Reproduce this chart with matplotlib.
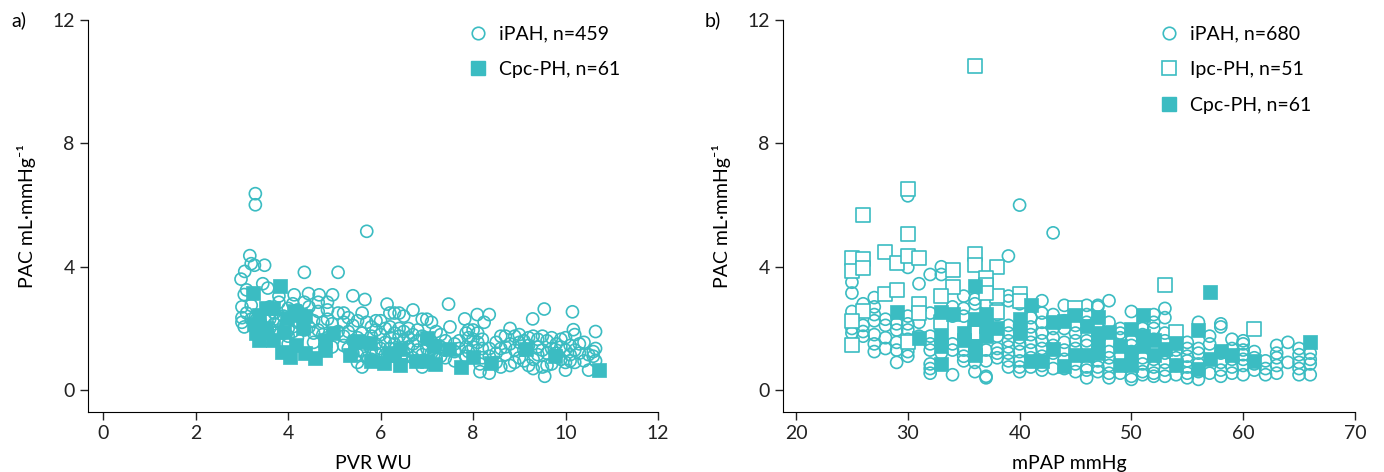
import matplotlib.pyplot as plt
from matplotlib.lines import Line2D

# colores y fuente
teal = '#3bbcc2'
plt.rcParams['font.family'] = ['Lato', 'DejaVu Sans']
plt.rcParams['font.size'] = 14

# ---------------- panel a: PVR vs PAC ----------------
ipah_a_pvr = [3.0, 3.0, 3.0, 2.98, 3.05, 3.05, 3.1, 3.06, 3.1, 3.17, 3.2, 3.2, 3.2,
              3.29, 3.29, 3.27, 3.3, 3.45, 3.4, 3.4, 3.49, 3.56, 3.5, 3.5, 3.6, 3.6, 3.6,
              3.7, 3.7, 3.7, 3.8, 3.8, 3.8, 3.8, 3.9, 3.9, 3.9, 4.0, 4.0, 4.0, 4.0,
              4.13, 4.1, 4.1, 4.2, 4.2, 4.2, 4.35, 4.35, 4.35, 4.35, 4.44, 4.45, 4.45,
              4.55, 4.55, 4.55, 4.67, 4.65, 4.65, 4.65, 4.75, 4.75, 4.85, 4.85, 4.85, 4.85,
              4.96, 4.95, 4.95, 5.08, 5.08, 5.08, 5.2, 5.2, 5.2, 5.2, 5.3, 5.3, 5.3,
              5.4, 5.4, 5.4, 5.4, 5.5, 5.5, 5.5, 5.5, 5.6, 5.6, 5.6, 5.6,
              5.7, 5.66, 5.7, 5.7, 5.7, 5.8, 5.8, 5.8, 5.8, 5.9, 5.9, 5.9, 5.9,
              6.0, 6.0, 6.0, 6.14, 6.1, 6.1, 6.1, 6.2, 6.2, 6.2, 6.2, 6.3, 6.3, 6.3, 6.3,
              6.4, 6.4, 6.4, 6.4, 6.5, 6.5, 6.5, 6.5, 6.5, 6.6, 6.6, 6.6,
              6.7, 6.7, 6.7, 6.7, 6.8, 6.8, 6.8, 6.9, 6.9, 6.9, 6.9, 7.0, 7.0, 7.0,
              7.1, 7.1, 7.1, 7.2, 7.2, 7.2, 7.3, 7.3, 7.3, 7.4, 7.4, 7.4, 7.47, 7.5,
              7.6, 7.6, 7.6, 7.7, 7.7, 7.82, 7.85, 7.85, 7.85, 7.9, 7.9, 7.9,
              8.0, 8.0, 8.0, 8.09, 8.1, 8.1, 8.15, 8.15, 8.2, 8.2, 8.2, 8.24,
              8.35, 8.35, 8.35, 8.35, 8.5, 8.5, 8.5, 8.6, 8.6, 8.6, 8.7, 8.7, 8.7,
              8.8, 8.8, 8.8, 8.9, 8.9, 8.9, 9.0, 9.0, 9.0, 9.1, 9.1, 9.1, 9.2, 9.2, 9.2,
              9.29, 9.3, 9.3, 9.3, 9.4, 9.4, 9.4, 9.5, 9.5, 9.5, 9.54, 9.55, 9.6, 9.6, 9.6,
              9.7, 9.7, 9.7, 9.8, 9.8, 9.9, 9.9, 9.9, 10.0, 10.0, 10.0, 10.0,
              10.1, 10.1, 10.1, 10.15, 10.17, 10.2, 10.2, 10.2, 10.3, 10.3, 10.4, 10.4,
              10.5, 10.5, 10.6, 10.6, 10.65, 10.65, 10.65]
ipah_a_pac = [2.2, 2.35, 2.7, 3.6, 3.1, 2.05, 3.25, 3.85, 2.5, 4.36, 4.1, 2.75, 2.3,
              6.37, 6.01, 4.05, 2.4, 3.45, 2.2, 1.9, 4.05, 3.31, 1.7, 2.3, 2.3, 2.0, 2.7,
              2.5, 2.15, 1.85, 3.05, 2.85, 2.25, 1.95, 1.85, 2.4, 2.1, 2.65, 2.0, 1.75, 1.5,
              3.09, 2.8, 1.9, 2.6, 2.2, 1.7, 3.82, 2.85, 2.4, 1.95, 3.13, 2.7, 2.05,
              2.25, 1.85, 1.55, 3.09, 2.85, 2.55, 1.95, 2.2, 1.8, 2.85, 2.6, 2.3, 1.7,
              3.09, 2.15, 1.4, 3.82, 2.5, 1.9, 2.5, 2.2, 1.75, 1.45, 2.35, 1.9, 1.35,
              3.06, 2.1, 1.6, 1.2, 2.25, 1.7, 1.15, 0.9, 2.5, 1.85, 1.3, 0.75,
              5.15, 2.94, 2.2, 1.55, 1.05, 2.05, 1.75, 1.3, 1.0, 2.25, 1.95, 1.5, 1.2,
              2.25, 1.8, 1.35, 2.79, 2.0, 1.55, 1.15, 2.5, 2.05, 1.7, 1.35, 2.5, 1.85, 1.5, 1.1,
              2.5, 2.0, 1.75, 1.3, 2.4, 1.9, 1.6, 1.2, 1.05, 2.0, 1.7, 1.4,
              2.6, 1.8, 1.5, 1.05, 1.95, 1.6, 1.3, 2.3, 1.75, 1.15, 0.75, 2.3, 1.65, 1.35,
              2.2, 1.55, 1.2, 1.9, 1.45, 1.0, 1.8, 1.4, 1.1, 1.6, 1.3, 1.05, 2.79, 2.05,
              1.5, 1.25, 0.95, 1.6, 1.35, 2.31, 1.85, 1.4, 1.1, 1.95, 1.7, 1.25,
              1.95, 1.65, 1.4, 2.45, 1.85, 1.55, 0.85, 0.6, 1.65, 1.35, 1.05, 2.2,
              2.45, 1.35, 1.1, 0.55, 1.55, 1.2, 0.9, 1.75, 1.35, 0.75, 1.75, 1.4, 1.15,
              2.0, 1.5, 0.8, 1.75, 1.3, 0.9, 1.8, 1.55, 1.05, 1.6, 1.3, 0.95, 1.7, 1.45, 0.8,
              2.31, 1.75, 1.0, 0.7, 1.65, 1.4, 1.15, 1.75, 1.3, 0.75, 2.63, 0.45, 1.6, 1.2, 0.8,
              1.7, 1.35, 0.85, 1.5, 1.2, 1.65, 1.4, 1.0, 1.7, 1.3, 0.9, 0.65,
              1.45, 1.15, 0.95, 2.54, 1.96, 1.8, 1.3, 0.9, 1.5, 1.2, 1.55, 0.95,
              1.15, 0.65, 1.25, 1.1, 1.9, 1.35, 0.95]

cpc_a_pvr = [3.24, 3.82, 3.36, 3.52, 3.67, 3.26, 3.52, 3.36, 3.67, 3.98, 4.13, 4.37,
             4.32, 3.86, 4.03, 4.16, 4.37, 4.59, 4.8, 4.8, 4.97, 5.33, 5.44, 5.76, 5.79,
             6.07, 6.19, 6.43, 6.43, 6.77, 7.01, 7.01, 7.15, 7.18, 7.49, 7.73, 8.0, 8.38,
             9.15, 9.77, 10.72, 3.45, 3.9, 4.25, 3.3, 5.5, 6.3]
cpc_a_pac = [3.15, 3.37, 2.45, 2.67, 2.67, 2.13, 2.02, 1.64, 1.64, 2.34, 2.56, 2.4,
             2.02, 1.24, 1.08, 1.48, 1.21, 1.05, 1.29, 1.64, 1.86, 1.14, 1.56, 1.53, 0.94,
             0.88, 1.21, 1.32, 0.8, 0.96, 0.96, 1.69, 1.42, 0.86, 1.34, 0.74, 1.07, 0.88,
             1.32, 1.12, 0.65, 1.9, 1.9, 2.45, 1.85, 1.6, 1.15]

# ---------------- panel b: mPAP vs PAC ----------------
ipah_b_mpap = ([25] * 5 + [26] * 4 + [27] * 7 + [28] * 4 + [29] * 5 + [30] * 8 +
               [31] * 3 + [32] * 8 + [33] * 5 + [34] * 5 + [35] * 6 + [36] * 6 +
               [37] * 7 + [38] * 6 + [39] * 10 + [40] * 10 + [41] * 7 + [42] * 9 +
               [43] * 7 + [44] * 7 + [45] * 7 + [46] * 8 + [47] * 6 + [48] * 7 +
               [49] * 6 + [50] * 7 + [51] * 6 + [52] * 8 + [53] * 8 + [54] * 5 +
               [55] * 7 + [56] * 6 + [57] * 3 + [58] * 6 + [59] * 5 + [60] * 7 +
               [61] * 4 + [62] * 3 + [63] * 5 + [64] * 2 + [65] * 5 + [66] * 4)
ipah_b_pac = [3.5, 3.15, 2.55, 2.0, 1.85,
              2.8, 2.1, 1.9, 1.75,
              3.0, 2.7, 2.45, 2.25, 1.8, 1.5, 1.25,
              2.3, 2.1, 1.7, 1.35,
              2.15, 1.95, 1.55, 1.3, 0.9,
              6.3, 3.98, 2.4, 2.15, 1.95, 1.65, 1.25, 1.1,
              3.45, 2.2, 1.75,
              3.75, 2.5, 1.75, 1.5, 1.3, 0.85, 0.7, 0.55,
              4.0, 3.75, 2.2, 1.55, 1.2,
              2.7, 2.4, 1.5, 1.3, 0.5,
              3.05, 2.65, 2.4, 1.3, 1.1, 0.95,
              2.95, 2.8, 2.0, 1.75, 0.9, 0.6,
              2.8, 2.3, 1.95, 1.3, 0.95, 0.45, 0.4,
              2.7, 2.45, 1.75, 1.35, 1.2, 1.05,
              4.35, 3.05, 2.9, 2.1, 1.85, 1.6, 1.4, 1.2, 0.95, 0.75,
              6.0, 2.8, 2.1, 1.9, 1.7, 1.5, 1.25, 0.95, 0.75, 0.6,
              2.35, 2.05, 1.8, 1.55, 1.3, 1.05, 0.75,
              2.9, 2.5, 2.2, 1.85, 1.6, 1.35, 1.1, 0.8, 0.65,
              5.1, 2.45, 2.0, 1.7, 1.45, 1.2, 0.7,
              2.75, 2.25, 2.0, 1.55, 1.3, 1.0, 0.7,
              2.5, 2.1, 1.85, 1.6, 1.35, 0.85, 0.6,
              2.75, 2.45, 2.2, 1.6, 1.45, 0.75, 0.65, 0.4,
              2.7, 2.75, 2.05, 0.95, 0.75, 0.6,
              2.9, 2.2, 1.25, 1.05, 0.8, 0.55, 0.4,
              2.0, 1.85, 1.7, 1.45, 1.1, 0.55,
              2.55, 1.6, 1.45, 1.25, 1.0, 0.45, 0.35,
              2.0, 1.8, 1.05, 0.85, 0.6, 0.5,
              2.45, 2.2, 2.0, 1.65, 1.0, 0.75, 0.55, 0.45,
              2.65, 2.35, 1.85, 1.6, 1.2, 0.9, 0.65, 0.45,
              1.5, 1.3, 1.05, 0.8, 0.5,
              1.55, 1.35, 1.1, 0.95, 0.75, 0.55, 0.4,
              2.2, 1.35, 1.2, 0.85, 0.6, 0.35,
              1.75, 1.5, 0.55,
              2.15, 2.05, 1.2, 0.9, 0.65, 0.45,
              1.65, 1.35, 1.0, 0.75, 0.55,
              1.6, 1.5, 1.3, 1.15, 1.0, 0.8, 0.5,
              1.25, 1.05, 0.85, 0.65,
              0.95, 0.7, 0.5,
              1.45, 1.2, 1.05, 0.8, 0.55,
              1.55, 0.9,
              1.35, 1.15, 0.9, 0.7, 0.5,
              1.2, 1.0, 0.85, 0.5]

ipc_b_mpap = [36, 30, 26, 30, 25, 26, 28, 29, 30, 31, 25, 26, 34, 36, 36, 38, 37, 37,
              34, 33, 28, 29, 38, 40, 40, 31, 31, 26, 25, 25, 30, 36, 36, 38, 53, 54,
              61, 45, 37, 33]
ipc_b_pac = [10.52, 6.52, 5.67, 5.07, 4.28, 4.25, 4.48, 4.12, 4.34, 4.28, 3.85, 3.96,
             3.9, 4.4, 4.05, 4.0, 3.65, 3.4, 3.35, 3.06, 3.13, 3.24, 3.06, 3.13, 2.88,
             2.8, 2.5, 2.56, 2.23, 1.48, 1.56, 2.0, 1.85, 2.55, 3.4, 1.9, 1.98, 2.67,
             3.15, 2.2]

cpc_b_mpap = [36, 57, 29, 33, 34, 41, 40, 51, 36, 37, 45, 47, 46, 43, 44, 56, 50, 48,
              35, 35, 37, 38, 37, 31, 33, 33, 36, 36, 51, 52, 47, 47, 49, 50, 50, 51,
              53, 54, 54, 52, 58, 59, 61, 56, 57, 66, 33, 41, 42, 43, 44, 45, 46, 49,
              47, 40]
cpc_b_pac = [3.38, 3.17, 2.53, 2.53, 2.47, 2.75, 2.32, 2.43, 2.32, 2.47, 2.43, 2.37,
             2.07, 2.2, 2.23, 1.96, 1.98, 1.89, 1.85, 1.64, 2.07, 2.02, 1.74, 1.69,
             1.74, 1.42, 1.42, 1.15, 1.74, 1.64, 1.64, 1.21, 1.42, 1.21, 0.83, 1.42,
             1.32, 1.53, 0.83, 1.13, 1.26, 1.15, 0.94, 0.67, 1.0, 1.56, 0.86, 0.94,
             0.94, 1.32, 0.77, 1.15, 1.15, 0.83, 1.85, 1.85]

fig = plt.figure(figsize=(13.84, 4.72), dpi=100)
ax1 = fig.add_axes([0.0636, 0.127, 0.4118, 0.8306])
ax2 = fig.add_axes([0.5658, 0.127, 0.4132, 0.8306])

circ = dict(marker='o', s=75, facecolors='none', edgecolors=teal, linewidths=1.2)
sq_open = dict(marker='s', s=95, facecolors='white', edgecolors=teal, linewidths=1.2)
sq_fill = dict(marker='s', s=95, facecolors=teal, edgecolors=teal, linewidths=0.5)

ax1.scatter(ipah_a_pvr, ipah_a_pac, **circ)
ax1.scatter(cpc_a_pvr, cpc_a_pac, **sq_fill)

ax2.scatter(ipah_b_mpap, ipah_b_pac, **circ)
ax2.scatter(ipc_b_mpap, ipc_b_pac, **sq_open)
ax2.scatter(cpc_b_mpap, cpc_b_pac, **sq_fill)

for ax in (ax1, ax2):
    ax.set_ylim(-0.71, 12)
    ax.set_yticks([0, 4, 8, 12])
    ax.spines['top'].set_visible(False)
    ax.spines['right'].set_visible(False)
    ax.tick_params(direction='out', length=6, width=1, labelsize=14, colors='#222222')
    ax.set_ylabel('PAC mL·mmHg⁻¹', fontsize=14, labelpad=12)

ax1.set_xlim(-0.33, 12)
ax1.set_xticks([0, 2, 4, 6, 8, 10, 12])
ax1.set_xlabel('PVR WU', fontsize=14, labelpad=9)

ax2.set_xlim(18.84, 70)
ax2.set_xticks([20, 30, 40, 50, 60, 70])
ax2.set_xlabel('mPAP mmHg', fontsize=14, labelpad=9)

h_circ = Line2D([], [], ls='none', marker='o', ms=9, mfc='none', mec=teal, mew=1.2)
h_open = Line2D([], [], ls='none', marker='s', ms=10, mfc='none', mec=teal, mew=1.2)
h_fill = Line2D([], [], ls='none', marker='s', ms=10, mfc=teal, mec=teal)

ax1.legend([h_circ, h_fill], ['iPAH, n=459', 'Cpc-PH, n=61'], loc='upper right',
           frameon=False, fontsize=14, handletextpad=0.5, handlelength=1.2,
           labelspacing=0.95, bbox_to_anchor=(0.965, 1.03))
ax2.legend([h_circ, h_open, h_fill], ['iPAH, n=680', 'Ipc-PH, n=51', 'Cpc-PH, n=61'],
           loc='upper right', frameon=False, fontsize=14, handletextpad=0.5,
           handlelength=1.2, labelspacing=0.95, bbox_to_anchor=(0.955, 1.03))

fig.text(0.008, 0.945, 'a)', fontsize=14)
fig.text(0.509, 0.945, 'b)', fontsize=14)

fig.savefig('out.png', dpi=100)
